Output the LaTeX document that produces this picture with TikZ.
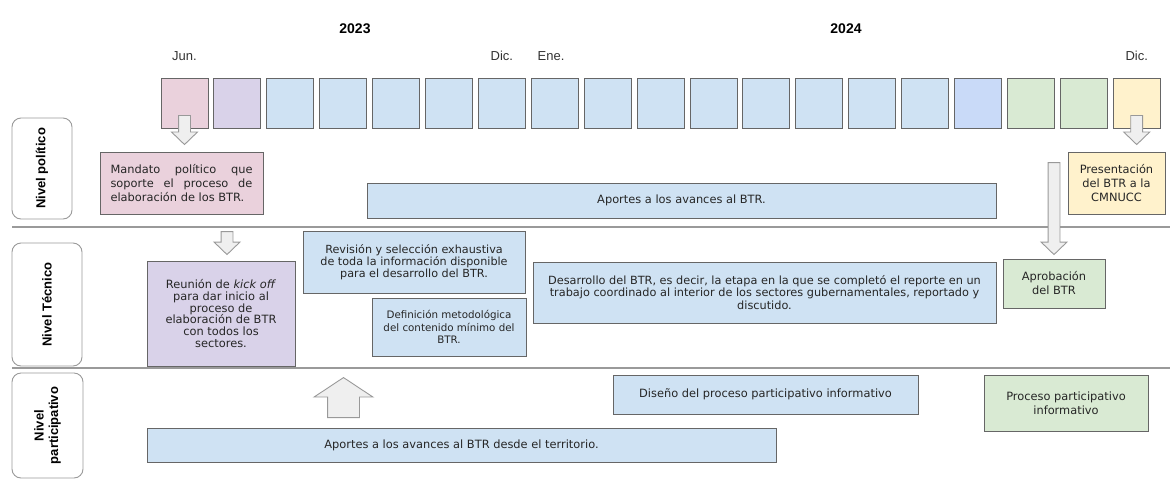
\documentclass[tikz,border=0pt]{standalone}
\usepackage{fontspec}
\setmainfont{DejaVu Sans}
\newfontfamily\arialfont{Liberation Sans}
\usepackage{xcolor}
\usepackage{tikz}
\usetikzlibrary{calc,positioning,shapes.arrows}

\definecolor{rosa}{HTML}{EAD1DC}
\definecolor{lila}{HTML}{D9D2E9}
\definecolor{celeste}{HTML}{CFE2F3}
\definecolor{azul}{HTML}{C9DAF8}
\definecolor{verde}{HTML}{D9EAD3}
\definecolor{amarillo}{HTML}{FFF2CC}
\definecolor{borde}{HTML}{666666}
\definecolor{linea}{HTML}{9A9A9A}
\definecolor{flecha}{HTML}{EFEFEF}

\tikzset{
    mes/.style={draw=borde, line width=0.9, minimum width=47, minimum height=50, inner sep=0},
    caja/.style={draw=borde, line width=0.9, inner sep=2, align=center, text=black!85, font=\fontsize{11.4}{13.5}\selectfont},
    nivel/.style={draw=linea, line width=0.9, rounded corners=9, fill=white, align=center, font=\arialfont\bfseries\fontsize{13}{14.5}\selectfont},
    sepline/.style={draw=linea, line width=1.1},
    blockarr/.style={single arrow, draw=black!40, fill=flecha, line width=0.9, outer sep=0, inner xsep=0, inner ysep=5.5, minimum width=0, single arrow head extend=7, single arrow tip angle=92},
    etiqueta/.style={text=black!80, font=\arialfont\fontsize{13}{14}\selectfont},
    anio/.style={font=\arialfont\bfseries\fontsize{14}{16}\selectfont}
}

% Blockpfeil von Schwanz (#3) zu Spitze (#4)
\newcommand{\blockarrow}[4][]{%
    \path let \p1=($(#4)-(#3)$), \n1={veclen(\x1,\y1)}, \n2={atan2(\y1,\x1)} in
        node[blockarr, #1, minimum height=\n1, rotate=\n2, anchor=tail] (#2) at (#3) {};}

\begin{document}
\begin{tikzpicture}[x=1pt, y=-1pt]
        \useasboundingbox (0,0) rectangle (1170,480);

        % Meses
            \node[mes, fill=rosa] (m1) at (184.5,103) {};
            \node[mes, fill=lila] (m2) at (237.4,103) {};
            \node[mes, fill=celeste] (m3) at (290.3,103) {};
            \node[mes, fill=celeste] (m4) at (343.2,103) {};
            \node[mes, fill=celeste] (m5) at (396.1,103) {};
            \node[mes, fill=celeste] (m6) at (449.0,103) {};
            \node[mes, fill=celeste] (m7) at (501.9,103) {};
            \node[mes, fill=celeste] (m8) at (554.8,103) {};
            \node[mes, fill=celeste] (m9) at (607.7,103) {};
            \node[mes, fill=celeste] (m10) at (660.6,103) {};
            \node[mes, fill=celeste] (m11) at (713.5,103) {};
            \node[mes, fill=celeste] (m12) at (766.4,103) {};
            \node[mes, fill=celeste] (m13) at (819.3,103) {};
            \node[mes, fill=celeste] (m14) at (872.2,103) {};
            \node[mes, fill=celeste] (m15) at (925.1,103) {};
            \node[mes, fill=azul] (m16) at (978.0,103) {};
            \node[mes, fill=verde] (m17) at (1030.9,103) {};
            \node[mes, fill=verde] (m18) at (1083.8,103) {};
            \node[mes, fill=amarillo] (m19) at (1136.7,103) {};

        % Años y meses
            \node[anio] (y2023) at (355,29) {2023};
            \node[anio] (y2024) at (846,29) {2024};
            \node[etiqueta] (jun) at (m1 |- 0,56) {Jun.};
            \node[etiqueta] (dic1) at (m7 |- 0,56) {Dic.};
            \node[etiqueta] (ene) at (551,56) {Ene.};
            \node[etiqueta] (dic2) at (m19 |- 0,56) {Dic.};

        % Niveles
            \node[nivel, rotate=90, minimum width=101, minimum height=60] (npol) at (42,168.5) {Nivel político};
            \node[nivel, rotate=90, minimum width=123, minimum height=70] (ntec) at (47,304.5) {Nivel Técnico};
            \node[nivel, rotate=90, minimum width=105, minimum height=71] (npar) at (47.5,425.5) {Nivel\\participativo};
            \draw[sepline] (12,227) -- (1170,227);
            \draw[sepline] (12,368) -- (1170,368);

        % Nivel político
            \node[caja, fill=rosa, minimum width=163, minimum height=62, text width=142, align=justify, font=\fontsize{11.4}{14}\selectfont] (mandato) at (181.5,183) {Mandato político que\linebreak soporte el proceso de\linebreak elaboración de los BTR.};
            \node[caja, fill=celeste, minimum width=629, minimum height=35] (aportes) at (681.5,200.5) {Aportes a los avances al BTR.};
            \node[caja, fill=amarillo, minimum width=97, minimum height=62, font=\fontsize{11.4}{13.8}\selectfont] (presentacion) at (1116.5,183) {Presentación\\del BTR a la\\CMNUCC};

        % Nivel técnico
            \node[caja, fill=lila, minimum width=148, minimum height=105, font=\fontsize{11.4}{11.8}\selectfont] (kickoff) at (221,313.5) {Reunión de \textit{kick off}\\para dar inicio al\\proceso de\\elaboración de BTR\\con todos los\\sectores.};
            \node[caja, fill=celeste, minimum width=222, minimum height=62, font=\fontsize{11.2}{11.9}\selectfont] (revision) at (414,262) {Revisión y selección exhaustiva\\de toda la información disponible\\para el desarrollo del BTR.};
            \node[caja, fill=celeste, minimum width=154, minimum height=58, font=\fontsize{10.3}{12.8}\selectfont] (definicion) at (449,327) {Definición metodológica\\del contenido mínimo del\\BTR.};
            \node[caja, fill=celeste, minimum width=463, minimum height=61, font=\fontsize{11.3}{12.3}\selectfont] (desarrollo) at (764.5,292.5) {Desarrollo del BTR, es decir, la etapa en la que se completó el reporte en un\\trabajo coordinado al interior de los sectores gubernamentales, reportado y\\discutido.};
            \node[caja, fill=verde, minimum width=102, minimum height=49, font=\fontsize{11.4}{14}\selectfont] (aprobacion) at (1054,283.5) {Aprobación\\del BTR};

        % Nivel participativo
            \node[caja, fill=celeste, minimum width=305, minimum height=39] (diseno) at (765.5,394.5) {Diseño del proceso participativo informativo};
            \node[caja, fill=verde, minimum width=164, minimum height=56] (proceso) at (1066,403) {Proceso participativo\\informativo};
            \node[caja, fill=celeste, minimum width=629, minimum height=34] (territorio) at (461.5,445) {Aportes a los avances al BTR desde el territorio.};

        % Flechas
            \coordinate (a1tail) at ($(m1.south)+(0,-13)$);
            \coordinate (a1tip) at ($(m1.south |- mandato.north)+(0,-7)$);
            \coordinate (a19tail) at ($(m19.south)+(0,-13)$);
            \coordinate (a19tip) at ($(m19.south |- presentacion.north)+(0,-7)$);
            \coordinate (a2tail) at ($(kickoff.north)+(6,-29)$);
            \coordinate (a2tip) at ($(kickoff.north)+(6,-6)$);
            \coordinate (aAtail) at ($(aprobacion.north)+(0,-96)$);
            \coordinate (aAtip) at ($(aprobacion.north)+(0,-4)$);
            \coordinate (aUtail) at ($(territorio.north)+(-118,-10)$);
            \coordinate (aUtip) at ($(territorio.north)+(-118,-50)$);
            \blockarrow{a1}{a1tail}{a1tip}
            \blockarrow{a19}{a19tail}{a19tip}
            \blockarrow{a2}{a2tail}{a2tip}
            \blockarrow{aA}{aAtail}{aAtip}
            \blockarrow[inner ysep=15.5, single arrow head extend=13.5, single arrow tip angle=113]{aU}{aUtail}{aUtip}
    \end{tikzpicture}
\end{document}
